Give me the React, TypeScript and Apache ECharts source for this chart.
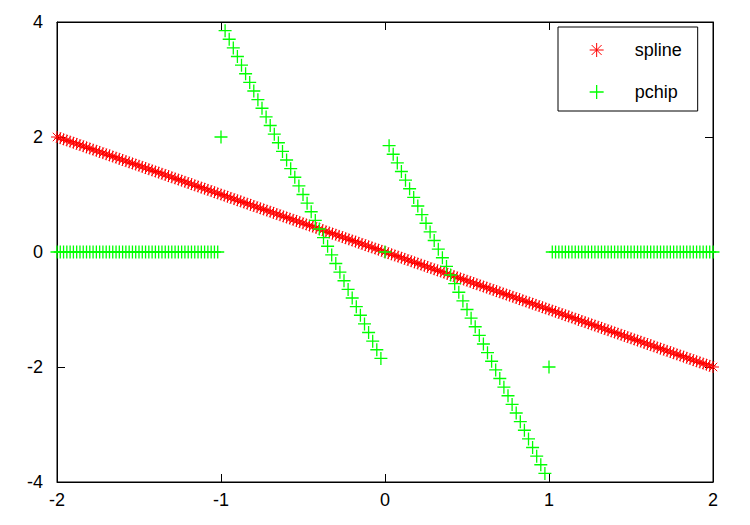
import React, { useEffect, useRef } from "react";
import * as echarts from "echarts";

// spline series: sampled every 0.02 on [-2, 2]
const splineX = [
  -2, -1.98, -1.96, -1.94, -1.92, -1.9, -1.88, -1.86, -1.84, -1.82,
  -1.8, -1.78, -1.76, -1.74, -1.72, -1.7, -1.68, -1.66, -1.64, -1.62,
  -1.6, -1.58, -1.56, -1.54, -1.52, -1.5, -1.48, -1.46, -1.44, -1.42,
  -1.4, -1.38, -1.36, -1.34, -1.32, -1.3, -1.28, -1.26, -1.24, -1.22,
  -1.2, -1.18, -1.16, -1.14, -1.12, -1.1, -1.08, -1.06, -1.04, -1.02,
  -1, -0.98, -0.96, -0.94, -0.92, -0.9, -0.88, -0.86, -0.84, -0.82,
  -0.8, -0.78, -0.76, -0.74, -0.72, -0.7, -0.68, -0.66, -0.64, -0.62,
  -0.6, -0.58, -0.56, -0.54, -0.52, -0.5, -0.48, -0.46, -0.44, -0.42,
  -0.4, -0.38, -0.36, -0.34, -0.32, -0.3, -0.28, -0.26, -0.24, -0.22,
  -0.2, -0.18, -0.16, -0.14, -0.12, -0.1, -0.08, -0.06, -0.04, -0.02,
  0, 0.02, 0.04, 0.06, 0.08, 0.1, 0.12, 0.14, 0.16, 0.18,
  0.2, 0.22, 0.24, 0.26, 0.28, 0.3, 0.32, 0.34, 0.36, 0.38,
  0.4, 0.42, 0.44, 0.46, 0.48, 0.5, 0.52, 0.54, 0.56, 0.58,
  0.6, 0.62, 0.64, 0.66, 0.68, 0.7, 0.72, 0.74, 0.76, 0.78,
  0.8, 0.82, 0.84, 0.86, 0.88, 0.9, 0.92, 0.94, 0.96, 0.98,
  1, 1.02, 1.04, 1.06, 1.08, 1.1, 1.12, 1.14, 1.16, 1.18,
  1.2, 1.22, 1.24, 1.26, 1.28, 1.3, 1.32, 1.34, 1.36, 1.38,
  1.4, 1.42, 1.44, 1.46, 1.48, 1.5, 1.52, 1.54, 1.56, 1.58,
  1.6, 1.62, 1.64, 1.66, 1.68, 1.7, 1.72, 1.74, 1.76, 1.78,
  1.8, 1.82, 1.84, 1.86, 1.88, 1.9, 1.92, 1.94, 1.96, 1.98,
  2,
];
const splineY = [
  2, 1.98, 1.96, 1.94, 1.92, 1.9, 1.88, 1.86, 1.84, 1.82,
  1.8, 1.78, 1.76, 1.74, 1.72, 1.7, 1.68, 1.66, 1.64, 1.62,
  1.6, 1.58, 1.56, 1.54, 1.52, 1.5, 1.48, 1.46, 1.44, 1.42,
  1.4, 1.38, 1.36, 1.34, 1.32, 1.3, 1.28, 1.26, 1.24, 1.22,
  1.2, 1.18, 1.16, 1.14, 1.12, 1.1, 1.08, 1.06, 1.04, 1.02,
  1, 0.98, 0.96, 0.94, 0.92, 0.9, 0.88, 0.86, 0.84, 0.82,
  0.8, 0.78, 0.76, 0.74, 0.72, 0.7, 0.68, 0.66, 0.64, 0.62,
  0.6, 0.58, 0.56, 0.54, 0.52, 0.5, 0.48, 0.46, 0.44, 0.42,
  0.4, 0.38, 0.36, 0.34, 0.32, 0.3, 0.28, 0.26, 0.24, 0.22,
  0.2, 0.18, 0.16, 0.14, 0.12, 0.1, 0.08, 0.06, 0.04, 0.02,
  0, -0.02, -0.04, -0.06, -0.08, -0.1, -0.12, -0.14, -0.16, -0.18,
  -0.2, -0.22, -0.24, -0.26, -0.28, -0.3, -0.32, -0.34, -0.36, -0.38,
  -0.4, -0.42, -0.44, -0.46, -0.48, -0.5, -0.52, -0.54, -0.56, -0.58,
  -0.6, -0.62, -0.64, -0.66, -0.68, -0.7, -0.72, -0.74, -0.76, -0.78,
  -0.8, -0.82, -0.84, -0.86, -0.88, -0.9, -0.92, -0.94, -0.96, -0.98,
  -1, -1.02, -1.04, -1.06, -1.08, -1.1, -1.12, -1.14, -1.16, -1.18,
  -1.2, -1.22, -1.24, -1.26, -1.28, -1.3, -1.32, -1.34, -1.36, -1.38,
  -1.4, -1.42, -1.44, -1.46, -1.48, -1.5, -1.52, -1.54, -1.56, -1.58,
  -1.6, -1.62, -1.64, -1.66, -1.68, -1.7, -1.72, -1.74, -1.76, -1.78,
  -1.8, -1.82, -1.84, -1.86, -1.88, -1.9, -1.92, -1.94, -1.96, -1.98,
  -2,
];

// pchip series, read piece by piece
const pchipFlatLeftX = [
  -2, -1.98, -1.96, -1.94, -1.92, -1.9, -1.88, -1.86, -1.84, -1.82,
  -1.8, -1.78, -1.76, -1.74, -1.72, -1.7, -1.68, -1.66, -1.64, -1.62,
  -1.6, -1.58, -1.56, -1.54, -1.52, -1.5, -1.48, -1.46, -1.44, -1.42,
  -1.4, -1.38, -1.36, -1.34, -1.32, -1.3, -1.28, -1.26, -1.24, -1.22,
  -1.2, -1.18, -1.16, -1.14, -1.12, -1.1, -1.08, -1.06, -1.04, -1.02,
];
const pchipFlatRightX = [
  1.02, 1.04, 1.06, 1.08, 1.1, 1.12, 1.14, 1.16, 1.18, 1.2,
  1.22, 1.24, 1.26, 1.28, 1.3, 1.32, 1.34, 1.36, 1.38, 1.4,
  1.42, 1.44, 1.46, 1.48, 1.5, 1.52, 1.54, 1.56, 1.58, 1.6,
  1.62, 1.64, 1.66, 1.68, 1.7, 1.72, 1.74, 1.76, 1.78, 1.8,
  1.82, 1.84, 1.86, 1.88, 1.9, 1.92, 1.94, 1.96, 1.98, 2,
];
const pchipFlatLevel = 0;
const pchipDropLeftX = [
  -0.975, -0.95, -0.925, -0.9, -0.875, -0.85, -0.825, -0.8, -0.775, -0.75,
  -0.725, -0.7, -0.675, -0.65, -0.625, -0.6, -0.575, -0.55, -0.525, -0.5,
  -0.475, -0.45, -0.425, -0.4, -0.375, -0.35, -0.325, -0.3, -0.275, -0.25,
  -0.225, -0.2, -0.175, -0.15, -0.125, -0.1, -0.075, -0.05, -0.025,
];
const pchipDropLeftY = [
  3.85, 3.7, 3.55, 3.4, 3.25, 3.1, 2.95, 2.8, 2.65, 2.5,
  2.35, 2.2, 2.05, 1.9, 1.75, 1.6, 1.45, 1.3, 1.15, 1,
  0.85, 0.7, 0.55, 0.4, 0.25, 0.1, -0.05, -0.2, -0.35, -0.5,
  -0.65, -0.8, -0.95, -1.1, -1.25, -1.4, -1.55, -1.7, -1.85,
];
const pchipDropRightX = [
  0.025, 0.05, 0.075, 0.1, 0.125, 0.15, 0.175, 0.2, 0.225, 0.25,
  0.275, 0.3, 0.325, 0.35, 0.375, 0.4, 0.425, 0.45, 0.475, 0.5,
  0.525, 0.55, 0.575, 0.6, 0.625, 0.65, 0.675, 0.7, 0.725, 0.75,
  0.775, 0.8, 0.825, 0.85, 0.875, 0.9, 0.925, 0.95, 0.975,
];
const pchipDropRightY = [
  1.85, 1.7, 1.55, 1.4, 1.25, 1.1, 0.95, 0.8, 0.65, 0.5,
  0.35, 0.2, 0.05, -0.1, -0.25, -0.4, -0.55, -0.7, -0.85, -1,
  -1.15, -1.3, -1.45, -1.6, -1.75, -1.9, -2.05, -2.2, -2.35, -2.5,
  -2.65, -2.8, -2.95, -3.1, -3.25, -3.4, -3.55, -3.7, -3.85,
];
const pchipKnotX = [-1, 0, 1];
const pchipKnotY = [2, 0, -2];

const seriesNames = ["spline", "pchip"];

const ASTERISK =
  "path://M0,5L10,5M5,0L5,10M1.46,1.46L8.54,8.54M8.54,1.46L1.46,8.54";
const PLUS = "path://M0,5L10,5M5,0L5,10";
const RED = "#ff0000";
const GREEN = "#00ff00";
const FONT = "Liberation Sans";

export default function App() {
  const ref = useRef<HTMLDivElement>(null);

  useEffect(() => {
    if (!ref.current) return;
    const chart = echarts.init(ref.current, undefined, { renderer: "svg" });

    const splineData = splineX.map((x, i) => [x, splineY[i]]);
    const pchipData = [
      ...pchipFlatLeftX.map((x) => [x, pchipFlatLevel]),
      [pchipKnotX[0], pchipKnotY[0]],
      ...pchipDropLeftX.map((x, i) => [x, pchipDropLeftY[i]]),
      [pchipKnotX[1], pchipKnotY[1]],
      ...pchipDropRightX.map((x, i) => [x, pchipDropRightY[i]]),
      [pchipKnotX[2], pchipKnotY[2]],
      ...pchipFlatRightX.map((x) => [x, pchipFlatLevel]),
    ];

    const axisLine = { show: true, onZero: false, lineStyle: { color: "#000", width: 1 } };
    const axisTick = {
      show: true,
      inside: true,
      length: 8,
      lineStyle: { color: "#000", width: 1 },
    };
    const label = { color: "#000", fontSize: 18, fontFamily: FONT };

    chart.setOption({
      animation: false,
      textStyle: { fontFamily: FONT },
      grid: {
        left: 57,
        right: 37,
        top: 22,
        bottom: 43,
        show: true,
        borderColor: "#000",
        borderWidth: 1,
        backgroundColor: "transparent",
      },
      legend: {
        orient: "vertical",
        left: 558,
        top: 27,
        padding: [14, 16, 10, 31],
        itemGap: 24,
        itemWidth: 66,
        itemHeight: 14,
        borderColor: "#000",
        borderWidth: 1,
        backgroundColor: "#fff",
        textStyle: { color: "#000", fontSize: 18, lineHeight: 18, fontFamily: FONT },
        data: [
          {
            name: seriesNames[0],
            icon: ASTERISK,
            itemStyle: { color: RED, borderColor: RED, borderWidth: 1 },
          },
          {
            name: seriesNames[1],
            icon: PLUS,
            itemStyle: { color: GREEN, borderColor: GREEN, borderWidth: 1.3 },
          },
        ],
      },
      xAxis: [
        {
          type: "value",
          position: "bottom",
          min: -2,
          max: 2,
          interval: 1,
          axisLine,
          axisTick,
          axisLabel: { ...label, margin: 9 },
          splitLine: { show: false },
        },
        {
          type: "value",
          position: "top",
          min: -2,
          max: 2,
          interval: 1,
          axisLine,
          axisTick,
          axisLabel: { show: false },
          splitLine: { show: false },
        },
      ],
      yAxis: [
        {
          type: "value",
          position: "left",
          min: -4,
          max: 4,
          interval: 2,
          axisLine,
          axisTick,
          axisLabel: { ...label, margin: 14 },
          splitLine: { show: false },
        },
        {
          type: "value",
          position: "right",
          min: -4,
          max: 4,
          interval: 2,
          axisLine,
          axisTick,
          axisLabel: { show: false },
          splitLine: { show: false },
        },
      ],
      series: [
        {
          name: seriesNames[0],
          type: "scatter",
          xAxisIndex: 0,
          yAxisIndex: 0,
          symbol: ASTERISK,
          symbolSize: 12,
          itemStyle: { color: RED, borderColor: RED, borderWidth: 1, opacity: 1 },
          emphasis: { disabled: true },
          data: splineData,
        },
        {
          name: seriesNames[1],
          type: "scatter",
          xAxisIndex: 0,
          yAxisIndex: 0,
          symbol: PLUS,
          symbolSize: 13,
          itemStyle: { color: GREEN, borderColor: GREEN, borderWidth: 1.3, opacity: 1 },
          emphasis: { disabled: true },
          data: pchipData,
        },
      ],
    });

    return () => chart.dispose();
  }, []);

  return (
    <div
      ref={ref}
      style={{ position: "absolute", left: 0, top: 0, width: 750, height: 525, background: "#fff" }}
    />
  );
}
